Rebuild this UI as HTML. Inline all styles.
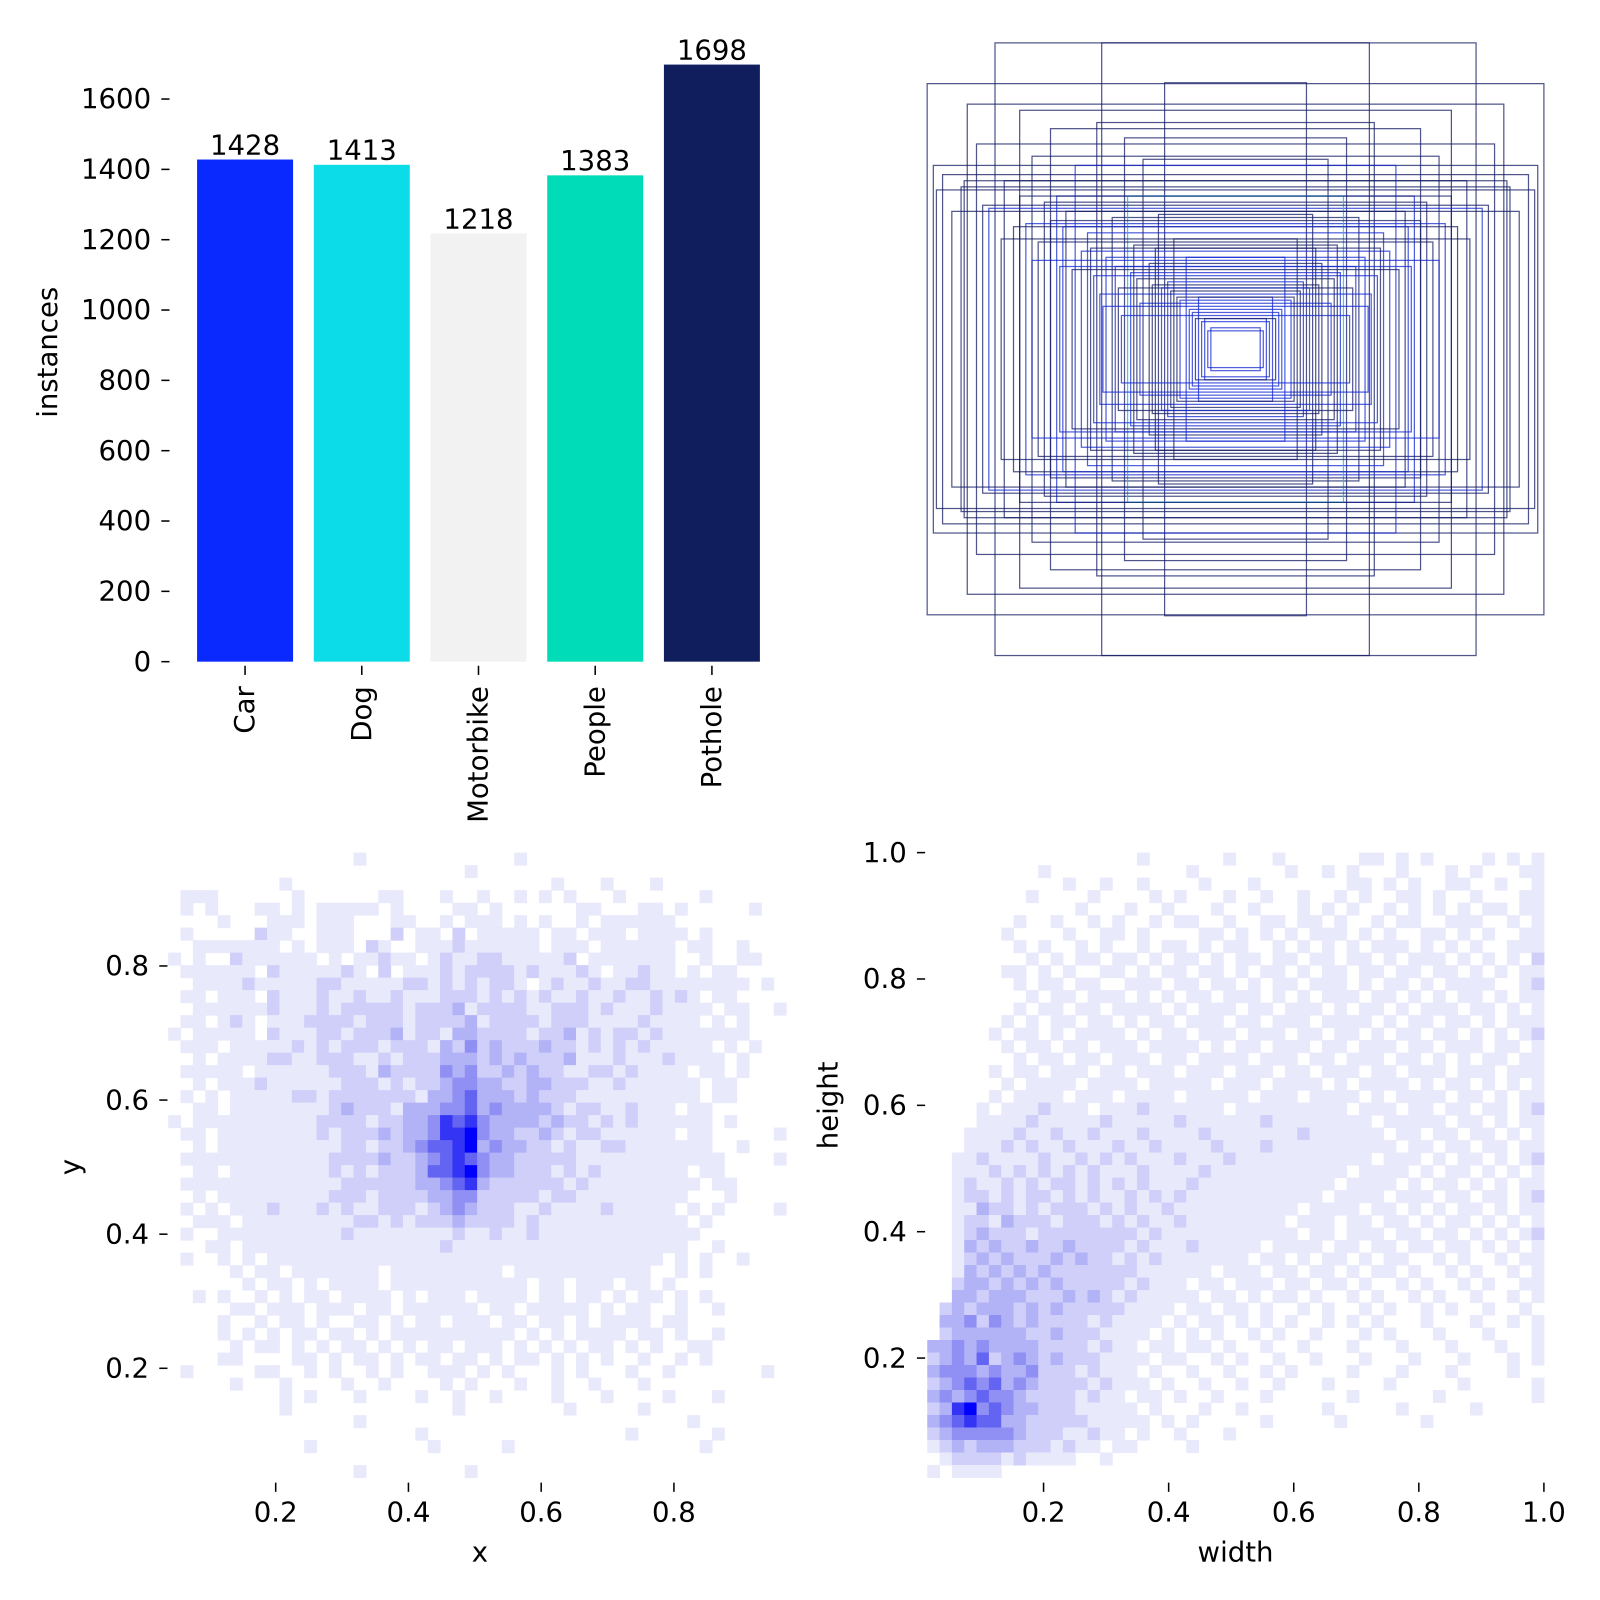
<!DOCTYPE html>
<html><head><meta charset="utf-8"><style>
html,body{margin:0;padding:0;background:#fff;}
svg{display:block;font-family:"DejaVu Sans","Liberation Sans",sans-serif;}
</style></head><body>
<svg width="1600" height="1600" viewBox="0 0 1600 1600" xmlns="http://www.w3.org/2000/svg"><g id="chart" transform="scale(1.0211)"></g></svg>
<script>
const barCategories = ["Car","Dog","Motorbike","People","Pothole"];
const barValues = [1428,1413,1218,1383,1698];
const barColors = ["#0a29ff","#0cdbe8","#f2f2f2","#00dcb7","#111e5e"];
const barYTicks = [0,200,400,600,800,1000,1200,1400,1600];
const boxW = [1.0,0.78,0.434,0.23,0.87,0.98,0.70,0.60,0.84,0.95,0.66,0.52,0.75,0.45,0.89,0.58,0.36,0.97,0.62,0.80,0.40,0.55,0.68,0.30,0.48,0.72,0.35,0.88,0.50,0.25,0.64,0.42,0.20,0.82,0.57,0.33,0.46,0.28,0.16,0.38,0.22,0.12,0.53,0.44,0.31,0.18,0.27,0.10,0.14,0.08,0.26,0.34,0.60,0.76,0.92,0.66,0.43,0.21,0.37,0.09,0.70,0.56,0.47,0.39,0.32,0.24,0.19,0.15,0.13,0.11];
const boxH = [0.867,1.0,1.0,0.87,0.80,0.60,0.78,0.72,0.67,0.57,0.63,0.60,0.55,0.74,0.53,0.50,0.69,0.52,0.48,0.46,0.43,0.45,0.41,0.62,0.38,0.40,0.50,0.55,0.32,0.44,0.35,0.30,0.36,0.47,0.27,0.34,0.24,0.28,0.30,0.20,0.22,0.17,0.26,0.18,0.15,0.16,0.21,0.10,0.12,0.07,0.33,0.25,0.42,0.36,0.45,0.29,0.14,0.19,0.11,0.06,0.50,0.40,0.33,0.27,0.23,0.20,0.17,0.13,0.10,0.09];
const boxColor = ["n","n","n","n","n","n","n","n","n","n","n","b","n","n","n","b","n","n","n","b","n","n","b","n","b","n","c","n","b","n","n","b","n","n","b","n","b","n","b","n","b","b","n","b","b","b","n","b","b","b","n","b","n","n","n","b","b","n","b","b","n","b","n","b","n","b","n","b","n","b"];
const xyXRange = [0.038,0.969];
const xyYRange = [0.969,0.037];
const xyXTicks = [0.2,0.4,0.6,0.8];
const xyYTicks = [0.2,0.4,0.6,0.8];
const xyRows = [
"00000000000000010000000000001000000000000000000000",
"00000000000000000000000010000000000000000000000000",
"00000000010000000000000000000001000100010000000000",
"01110000001000000110001001001010100010000001000000",
"01010001101011111010000110100000011000110100000100",
"00001000111011100011001011101010010111111000000000",
"01000002110011100020110201111101101110111101000000",
"00111111101011102100111211111101110111111011001000",
"10100211111101011211012112211111201111111001001100",
"01111110211111210201112122221211121011211010110000",
"00111121111122111112212121221012112112211111111010",
"01101110211121121121112221212121121121121210110000",
"00111111211121222221222312222112221211121111011001",
"01101210111222212221222231222212221111211110101000",
"10111110211122122231221332222122312122121111111000",
"01110111112121222122213242322232212121211111010100",
"00101111221122211212223332323222311121112111101000",
"01111101111112221322224342232322112212111101101000",
"00101112111111222121223443322332221121111110110000",
"01010111112212222222133453332322211111111110110000",
"00110111111112322213334453433332122112111011000000",
"10111111111122221223346564333323221212111111010000",
"01101111111121222323346674332232122111111011000001",
"00101111111111221223455673433221211221111111001000",
"01111111111112222322345654332222211111111111100001",
"00110111111112121222355674332221212111111101100000",
"01111111111111222222334563222222121111111110110000",
"00101111111112221222233442222212211111111100010000",
"01010111211121211222123432221121111211111010100001",
"00111011111111122121222322221211111111111101000000",
"01001111111111211111111211211211111111111110000000",
"00011011111111111111112111111111111111111100100000",
"01001010111111111111111111111111111111110101001000",
"00000101101111111011111111101111111111100101000000",
"00000010110101111011111111111011011101101000000000",
"00101001010110111101011101111011011010110101000000",
"00000110111011101101111110110111110101100100100000",
"00001001011010011010110111011011010111101100000000",
"00001010101101101011111111110101011110110100100000",
"00000101101010110101011011101010101101010011000000",
"00001100001101011010110110101101010100100101000000",
"01000001100101001010011101010001010001001000000010",
"00000100010000100100001010001001001000100000000000",
"00000000010100010000100100100001000100001000100000",
"00000000010000000000000100000000100000100000000000",
"00000000000000010000000000000000000000000010000000",
"00000000000000000000100000000000000001000000100000",
"00000000000100000000010000010000000000000001000000",
"00000000000000000000000000000000000000000000000000",
"00000000000000010000000010000000000000000000000000"];
const whXRange = [0.014,1.0];
const whYRange = [1.0,0.011];
const whXTicks = [0.2,0.4,0.6,0.8,1.0];
const whYTicks = [0.2,0.4,0.6,0.8,1.0];
const whRows = [
"0000000000 0000000100 0000100010 0000011010 1000010101",
"0000000001 0000000000 0100000001 0010100010 0010100011",
"0000000000 0100100100 0010001000 0000110101 0011001001",
"0000000010 0001000010 1000100100 1001010011 0100100011",
"0000000000 0010001001 0001001000 1010100101 0101011011",
"0000000100 1001010010 1100100110 1101001011 0011100101",
"0000001000 0100110100 0011010101 0111010100 1101010011",
"0000000101 0010100101 1010110010 1010101110 1010100111",
"0000000010 1011011010 1101011011 0110110101 1101010102",
"0000001101 0100110101 1011010110 1011011011 0110101011",
"0000000101 1011001110 1101101011 0111010110 1011110012",
"0000000010 1101110101 0110111010 1011101101 0101101011",
"0000000101 1011011110 1011101101 1101011010 1110110101",
"0000001010 1101101011 0111011011 1011110101 1011010111",
"0000010110 1011110101 1011101110 1101101011 0110101012",
"0000001011 0110111011 1101011011 1011011101 1011101101",
"0000000101 1011011101 1011110111 0110111011 0101011011",
"0000010110 1110110111 0111011101 1011101101 1101110111",
"0000001011 1101111011 1110111011 1101011110 1011010101",
"0000010111 1011101111 0111110111 0111101011 1101101011",
"0000101112 1110111211 1111011111 1111011101 1011011012",
"0000111121 1111211111 2111111211 1111110111 1101101011",
"0001111211 2112111211 1121111111 2111111011 0110110101",
"0001112121 1211121121 1112111211 1111111101 1011011011",
"0011211112 1121212111 2111211111 1111110111 0101101012",
"0011121212 1212111211 1121111111 1111011110 1011010101",
"0012112121 2212121211 1211111111 1110111101 0110101011",
"0012212122 1212112121 2111111111 1101111011 1011011012",
"0011322121 2221212112 1111111111 0111101101 0101101011",
"0012213222 1222121211 2111111110 1110110110 1011010101",
"0012322212 2222222121 1111111111 0110111011 0110101012",
"0013232232 2322221211 1211111011 1101101101 1011010101",
"0012323222 3232212121 1111110110 1011010110 0101001011",
"0013232323 2222222111 1110111011 0110101101 0010100101",
"0023323232 3222221211 1011011101 1011010010 1001010011",
"0033233322 2323212111 1101101011 0100101001 0100100101",
"0232333232 3222221111 0110110100 1010010100 1010010010",
"0334243232 2221211110 1011010101 0010101000 1000100101",
"0233333322 3222111101 0101001010 0100010100 0100010001",
"3343433332 2221211011 0110100100 1000100010 0010001001",
"2343523432 3222111101 1001010010 0100010001 0001000101",
"3444343342 2212111010 0100100101 0000100010 0010000100",
"2345453432 2221211101 0010010010 0010000100 0001000001",
"3434544322 2212110110 1001000100 0000100000 0100000001",
"2367454332 2211111010 0010010000 0010000010 0000100000",
"3456553322 2221111101 0100000100 0001000000 1000000000",
"2344444322 2112110100 1000100000 0000000000 0000000000",
"1232333222 1211011000 0100000000 0000000000 0000000000",
"0122221211 1100100000 0000000000 0000000000 0000000000",
"1011110000 0000000000 0000000000 0000000000 0000000000"];

const NS="http://www.w3.org/2000/svg";
const root=document.getElementById('chart');
function mk(tag,attrs,parent){const e=document.createElementNS(NS,tag);for(const k in attrs)e.setAttribute(k,attrs[k]);(parent||root).appendChild(e);return e;}
function txt(s,attrs,parent){const e=mk('text',attrs,parent);e.textContent=s;return e;}
const levelColors=['#ffffff','#e9e9fc','#cfcffa','#b2b2f7','#8f8ff4','#6464f2','#3434f5','#0000ff'];
const FS=27;

const barG=mk('g',{});


const barY=v=>648-v*(648-97)/1600;
const barX=i=>193+i*114.3;
const barW=94;
barCategories.forEach((c,i)=>{
  const r=mk('rect',{x:barX(i),y:barY(barValues[i]),width:barW,height:648-barY(barValues[i]),fill:barColors[i]},barG);
  
  
  const t=txt(String(barValues[i]),{x:barX(i)+barW/2,y:barY(barValues[i])-5,'font-size':FS,'text-anchor':'middle',fill:'#000'},barG);
  
  
  mk('line',{x1:barX(i)+barW/2,x2:barX(i)+barW/2,y1:652,y2:661,stroke:'#000','stroke-width':1.5},barG);
  const cx=barX(i)+barW/2+9, cy=672;
  const lt=txt(c,{x:cx,y:cy,'font-size':FS,'text-anchor':'end',transform:'rotate(-90 '+cx+' '+cy+')'},barG);
  
  
});
barYTicks.forEach(v=>{
  mk('line',{x1:158,x2:166,y1:barY(v),y2:barY(v),stroke:'#000','stroke-width':1.5},barG);
  const t=txt(String(v),{x:148,y:barY(v)+9,'font-size':FS,'text-anchor':'end'},barG);
  
  
});
const inst=txt('instances',{x:56,y:345,'font-size':FS,'text-anchor':'middle',transform:'rotate(-90 56 345)'},barG);



const boxG=mk('g',{});


const bcx=1210,bcy=342,bpw=604,bph=600;
const bcol={n:'rgba(20,28,100,0.75)',b:'rgba(20,40,210,0.75)',c:'rgba(0,200,220,0.8)'};
boxW.forEach((w,i)=>{
  const W=w*bpw,H=boxH[i]*bph;
  const r=mk('rect',{x:bcx-W/2,y:bcy-H/2,width:W,height:H,fill:'none',stroke:bcol[boxColor[i]],'stroke-width':1.2},boxG);
  
  
});

function heat(name,rows,xr,yr,xs,ys,xTicks,yTicks,xTitle,yTitle,xtPos,ytPos){
  const g=mk('g',{});
  
  
  const grid=rows.map(r=>r.replace(/ /g,''));
  const nr=grid.length,nc=grid[0].length;
  for(let r=0;r<nr;r++)for(let c=0;c<nc;c++){
    const l=+grid[r][c]; if(!l)continue;
    const x0=xs(xr[0]+c*(xr[1]-xr[0])/nc),x1=xs(xr[0]+(c+1)*(xr[1]-xr[0])/nc);
    const y0=ys(yr[0]+r*(yr[1]-yr[0])/nr),y1=ys(yr[0]+(r+1)*(yr[1]-yr[0])/nr);
    const e=mk('rect',{x:x0,y:y0,width:x1-x0+0.5,height:y1-y0+0.5,fill:levelColors[l]},g);
    
    
  }
  xTicks.forEach(v=>{
    mk('line',{x1:xs(v),x2:xs(v),y1:1452,y2:1461,stroke:'#000','stroke-width':1.5},g);
    const t=txt(v.toFixed(1),{x:xs(v),y:1490,'font-size':FS,'text-anchor':'middle'},g);
    
    
  });
  yTicks.forEach(v=>{
    mk('line',{x1:ytPos-10,x2:ytPos-2,y1:ys(v),y2:ys(v),stroke:'#000','stroke-width':1.5},g);
    const t=txt(v.toFixed(1),{x:ytPos-20,y:ys(v)+9,'font-size':FS,'text-anchor':'end'},g);
    
    
  });
  const xt=txt(xTitle,{x:xtPos,y:1529,'font-size':FS,'text-anchor':'middle'},g);
  
  
  const yx=ytPos-88,yy=(ys(yTicks[0])+ys(yTicks[yTicks.length-1]))/2;
  const yt=txt(yTitle,{x:yx,y:yy,'font-size':FS,'text-anchor':'middle',transform:'rotate(-90 '+yx+' '+yy+')'},g);
  
  
}
heat('xy-heatmap',xyRows,xyXRange,xyYRange,v=>270+(v-0.2)*650,v=>946-(v-0.8)*656.7,xyXTicks,xyYTicks,'x','y',470,166);
heat('width-height-heatmap',whRows,whXRange,whYRange,v=>1022+(v-0.2)*612.5,v=>1330-(v-0.2)*618.75,whXTicks,whYTicks,'width','height',1210,908);
</script>
</body></html>
